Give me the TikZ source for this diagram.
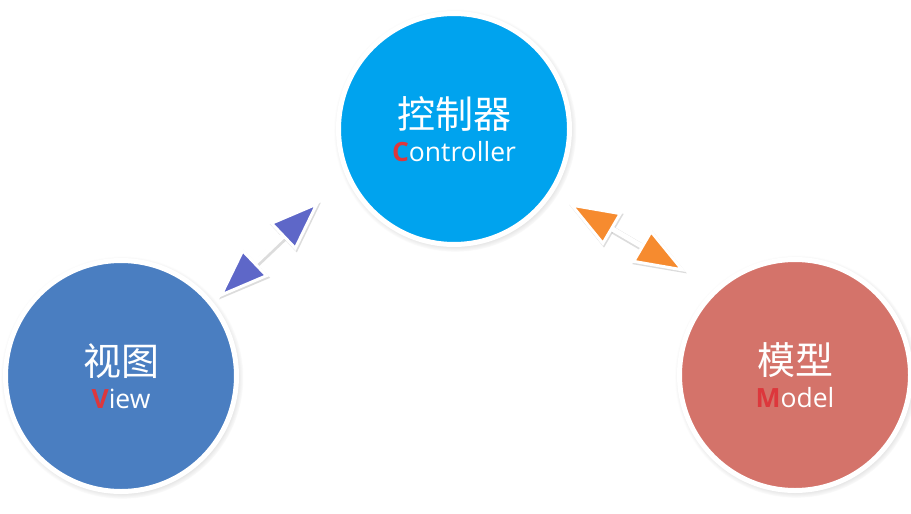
\documentclass[tikz,border=0pt]{standalone}
\usepackage{fontspec}
\setmainfont{Open Sans}
\newfontfamily\cjk{Noto Sans CJK SC}
\usetikzlibrary{positioning, shadows, arrows.meta}
\definecolor{ctrlblue}{RGB}{0,163,238}
\definecolor{viewblue}{RGB}{74,126,193}
\definecolor{modelred}{RGB}{212,115,106}
\definecolor{letterred}{RGB}{221,55,60}
\definecolor{linkblue}{RGB}{94,103,200}
\definecolor{linkorange}{RGB}{246,139,47}
\newcommand{\capletter}[1]{{\color{letterred}\bfseries #1}}
\newcommand{\hanzi}[1]{{\cjk\fontsize{38}{32}\selectfont #1}}

\begin{document}
\begin{tikzpicture}[
    x=1pt, y=-1pt,
    on grid,
    mvc/.style={circle, minimum size=231pt, inner sep=0pt, draw=white, line width=5pt,
        align=center, text=white, font=\fontsize{26.5}{33}\selectfont,
        circular drop shadow={shadow xshift=1pt, shadow yshift=-1.5pt, shadow scale=1.05, opacity=.6}},
    link/.style={draw=white, line width=5pt,
        {Triangle[length=52pt, width=38pt, line width=3pt, color=white, fill=#1]}-{Triangle[length=52pt, width=38pt, line width=3pt, color=white, fill=#1]}},
    linkshadow/.style={draw=black!30, line width=7pt, opacity=.45,
        {Triangle[length=52pt, width=38pt, line width=4pt]}-{Triangle[length=52pt, width=38pt, line width=4pt]},
        transform canvas={shift={(1pt,-1.5pt)}}}
]
   \useasboundingbox (0,0) rectangle (911,514);

   % Circles
   \node[mvc, fill=ctrlblue] (C) at (454,129) {\hanzi{控制器}\\\capletter{C}ontroller};
   \node[mvc, fill=viewblue] (V) [below left=247pt and 333pt of C] {\hanzi{视图}\\\capletter{V}iew};
   \node[mvc, fill=modelred] (M) [below right=246pt and 341pt of C] {\hanzi{模型}\\\capletter{M}odel};

   % Arrow ends
   \coordinate (v1) at (218,298);
   \coordinate (c1) at (320,201);
   \coordinate (c2) at (568,203);
   \coordinate (m2) at (686,272);

   % Arrows
   \path
   (v1) edge [linkshadow] (c1)
   (v1) edge [link=linkblue] (c1)
   (c2) edge [linkshadow] (m2)
   (c2) edge [link=linkorange] (m2);

\end{tikzpicture}
\end{document}
